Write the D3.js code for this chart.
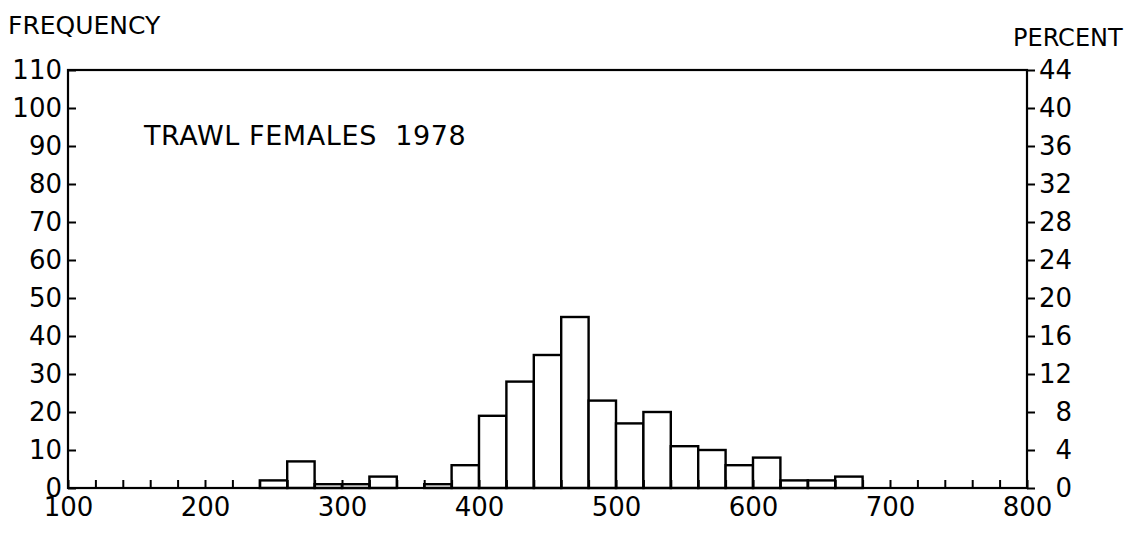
<!DOCTYPE html>
<html>
<head>
<meta charset="utf-8">
<script src="https://cdn.jsdelivr.net/npm/d3@7"></script>
<style>
  body { margin: 0; background: #fff; }
  text { font-family: "DejaVu Sans", sans-serif; fill: #000; }
</style>
</head>
<body>
<svg id="chart" width="1129" height="534"></svg>
<script>
// Length classes (lower edge of each 20 mm bin) and the counts
var binStart = [240, 260, 280, 300, 320, 340, 360, 380, 400, 420, 440,
                460, 480, 500, 520, 540, 560, 580, 600, 620, 640, 660]
var counts   = [2, 7, 1, 1, 3, 0, 1, 6, 19, 28, 35,
                45, 23, 17, 20, 11, 10, 6, 8, 2, 2, 3]
var binWidth = 20

// Axis ticks
var xTicks    = d3.range(100, 801, 20)
var xLabels   = [100, 200, 300, 400, 500, 600, 700, 800]
var freqTicks = [0, 10, 20, 30, 40, 50, 60, 70, 80, 90, 100, 110]
var pctTicks  = [0, 4, 8, 12, 16, 20, 24, 28, 32, 36, 40, 44]

var title = "TRAWL FEMALES  1978"

var total = d3.sum(counts)   // 250 fish, so 110 on the left = 44 %

// plot frame (don't call these top/left, window.top is taken)
var plotL = 68, plotR = 1027, plotT = 70, plotB = 488

var x = d3.scaleLinear().domain([100, 800]).range([plotL, plotR])
var y = d3.scaleLinear().domain([0, 110]).range([plotB, plotT])
var yPct = d3.scaleLinear().domain([0, 110 / total * 100]).range([plotB, plotT])

var svg = d3.select('#chart')

var bins = binStart.map(function(s, i) { return {x0: s, x1: s + binWidth, n: counts[i]} })
    .filter(function(d) { return d.n > 0 })

svg.append('g')
    .selectAll('rect')
    .data(bins)
    .join('rect')
    .attr('x', function(d) { return x(d.x0) })
    .attr('y', function(d) { return y(d.n) })
    .attr('width', function(d) { return x(d.x1) - x(d.x0) })
    .attr('height', function(d) { return y(0) - y(d.n) })
    .attr('fill', '#fff')
    .attr('stroke', '#000')
    .attr('stroke-width', 2.4)

// frame
svg.append('rect')
    .attr('x', plotL)
    .attr('y', plotT)
    .attr('width', plotR - plotL)
    .attr('height', plotB - plotT)
    .attr('fill', 'none')
    .attr('stroke', '#000')
    .attr('stroke-width', 2.2)

// bottom axis, ticks point up into the plot
var xAxis = svg.append('g')
    .attr('transform', 'translate(0,' + plotB + ')')
    .call(d3.axisBottom(x)
        .tickValues(xTicks)
        .tickSize(-8)
        .tickPadding(10)
        .tickFormat(function(d) { return xLabels.indexOf(d) >= 0 ? d : '' }))

// left axis, ticks point right
var yAxis = svg.append('g')
    .attr('transform', 'translate(' + plotL + ',0)')
    .call(d3.axisLeft(y)
        .tickValues(freqTicks)
        .tickSize(-8)
        .tickPadding(6))

// right axis in percent, ticks point outward
var pAxis = svg.append('g')
    .attr('transform', 'translate(' + plotR + ',0)')
    .call(d3.axisRight(yPct)
        .tickValues(pctTicks)
        .tickSize(8)
        .tickPadding(8))

pAxis.selectAll('text')
    .attr('text-anchor', 'end')
    .attr('x', 45)

svg.selectAll('.domain').remove()
svg.selectAll('.tick line').attr('stroke', '#000').attr('stroke-width', 2)
svg.selectAll('.tick text')
    .style('font-size', '26px')
    .style('font-family', '"DejaVu Sans", sans-serif')

svg.append('text')
    .attr('x', 8)
    .attr('y', 34)
    .style('font-size', '25px')
    .text('FREQUENCY')

svg.append('text')
    .attr('x', 1013)
    .attr('y', 46)
    .style('font-size', '24px')
    .text('PERCENT')

svg.append('text')
    .attr('x', 144)
    .attr('y', 145)
    .style('font-size', '27px')
    .style('white-space', 'pre')
    .style('letter-spacing', '0.6px')
    .text(title)
</script>
</body>
</html>
